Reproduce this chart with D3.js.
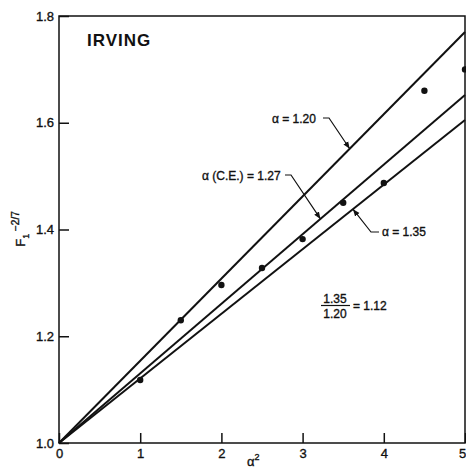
<!DOCTYPE html>
<head>
  <style>
    body { margin: 0; background: #fff; }
    text { font-family: "Liberation Sans", Arial, sans-serif; fill: #111; stroke: #111; stroke-width: 0.35px; }
  </style>
<title>Irving</title>
</head>

<body>

  <script type="text/javascript" src="https://cdn.jsdelivr.net/npm/d3@7/dist/d3.min.js"></script>

  <script type="text/javascript">
    // chart data
    var xTickValues = [0, 1, 2, 3, 4, 5];
    var yTickValues = [1.0, 1.2, 1.4, 1.6, 1.8];

    // measured points (a^2, F1^-2/7)
    var alphaSq = [1, 1.5, 2, 2.5, 3, 3.5, 4, 4.5, 5];
    var fValues = [1.118, 1.23, 1.296, 1.328, 1.382, 1.45, 1.487, 1.66, 1.70];

    // straight lines from (0, 1.0) to (5, end)
    var lineLabels = ["α = 1.20", "α (C.E.) = 1.27", "α = 1.35"];
    var lineEnds = [1.77, 1.652, 1.605];
    var arrowAt = [3.58, 3.22, 3.62];   // a^2 where each leader arrow hits its line

    var w = 466;
    var h = 471;
    var margin = ({top: 16, right: 1, bottom: 28, left: 59});

    var x = d3.scaleLinear().domain([0, 5]).range([margin.left, w - margin.right]);
    var y = d3.scaleLinear().domain([1.0, 1.8]).range([h - margin.bottom, margin.top]);

    var svg = d3.select("body")
                .append("svg")
                .attr("width", w)
                .attr("height", h);

    // frame
    svg.append("rect")
        .attr("x", x(0))
        .attr("y", y(1.8))
        .attr("width", x(5) - x(0))
        .attr("height", y(1.0) - y(1.8))
        .attr("fill", "none")
        .attr("stroke", "#111")
        .attr("stroke-width", 1.5);

    // axes, ticks pointing inward
    var xAxis = d3.axisBottom(x)
                  .tickValues(xTickValues)
                  .tickFormat(d3.format("d"))
                  .tickSizeInner(-10)
                  .tickSizeOuter(0)
                  .tickPadding(6);
    var gx = svg.append("g")
        .attr("transform", `translate(0,${y(1.0)})`)
        .call(xAxis);

    var yAxis = d3.axisLeft(y)
                  .tickValues(yTickValues)
                  .tickFormat(d3.format(".1f"))
                  .tickSizeInner(-10)
                  .tickSizeOuter(0)
                  .tickPadding(5);
    var gy = svg.append("g")
        .attr("transform", `translate(${x(0)},0)`)
        .call(yAxis);

    [gx, gy].forEach(function(g) {
      g.select(".domain").remove();
      g.selectAll("line").attr("stroke", "#111").attr("stroke-width", 1.5);
      g.selectAll("text")
        .attr("fill", "#111")
        .style("font-family", "'Liberation Sans', Arial, sans-serif")
        .style("font-size", "13px");
    });
    // keep the last x label inside the page edge
    gx.selectAll(".tick text").filter(function(d) { return d === 5; }).attr("dx", -3);

    // fitted lines
    var line = d3.line()
                 .x(function(d) { return x(d[0]); })
                 .y(function(d) { return y(d[1]); });

    svg.append("g")
        .selectAll("path")
        .data(lineEnds)
        .enter()
        .append("path")
        .attr("d", function(d) { return line([[0, 1.0], [5, d]]); })
        .attr("fill", "none")
        .attr("stroke", "#111")
        .attr("stroke-width", 2);

    // data points
    svg.append("g")
        .selectAll("circle")
        .data(alphaSq)
        .enter()
        .append("circle")
        .attr("cx", function(d) { return x(d); })
        .attr("cy", function(d, i) { return y(fValues[i]); })
        .attr("r", 3.2)
        .attr("fill", "#111");

    // arrowhead marker
    svg.append("defs").append("marker")
        .attr("id", "arrow")
        .attr("viewBox", "0 0 10 10")
        .attr("refX", 10)
        .attr("refY", 5)
        .attr("markerWidth", 7)
        .attr("markerHeight", 7)
        .attr("markerUnits", "userSpaceOnUse")
        .attr("orient", "auto")
        .append("path")
        .attr("d", "M0,1 L10,5 L0,9 Z")
        .attr("fill", "#111");

    // leader labels: text anchor, hook, arrow tip on the line
    var labelPos = [
      {tx: 272, ty: 123, anchor: "start", hook: [[323, 118], [329, 118]]},
      {tx: 202, ty: 180, anchor: "start", hook: [[285, 175], [291, 175]]},
      {tx: 382, ty: 236, anchor: "start", hook: [[379, 232], [371, 232]]}
    ];

    lineLabels.forEach(function(lab, i) {
      var p = labelPos[i];
      var tip = [x(arrowAt[i]), y(1.0 + (lineEnds[i] - 1.0) * arrowAt[i] / 5)];
      svg.append("text")
          .attr("x", p.tx)
          .attr("y", p.ty)
          .attr("text-anchor", p.anchor)
          .style("font-size", "12px")
          .text(lab);
      svg.append("path")
          .attr("d", d3.line()(p.hook.concat([tip])))
          .attr("fill", "none")
          .attr("stroke", "#111")
          .attr("stroke-width", 1.2)
          .attr("marker-end", "url(#arrow)");
    });

    // title inside the plot
    svg.append("text")
        .attr("x", 87)
        .attr("y", 46)
        .style("font-size", "17px")
        .style("font-weight", "bold")
        .style("letter-spacing", "1px")
        .style("stroke-width", "0px")
        .text("IRVING");

    // ratio note
    var frac = svg.append("g");
    frac.append("text")
        .attr("x", 335).attr("y", 303)
        .attr("text-anchor", "middle")
        .style("font-size", "12px")
        .text("1.35");
    frac.append("line")
        .attr("x1", 321).attr("x2", 350)
        .attr("y1", 305.5).attr("y2", 305.5)
        .attr("stroke", "#111").attr("stroke-width", 1.2);
    frac.append("text")
        .attr("x", 335).attr("y", 318)
        .attr("text-anchor", "middle")
        .style("font-size", "12px")
        .text("1.20");
    frac.append("text")
        .attr("x", 353).attr("y", 310)
        .style("font-size", "12px")
        .text("= 1.12");

    // axis labels
    var yl = svg.append("text")
        .attr("transform", "translate(25,229) rotate(-90)")
        .attr("text-anchor", "middle")
        .attr("fill", "#111")
        .style("font-size", "13px");
    yl.append("tspan").text("F");
    yl.append("tspan").attr("dy", 4).style("font-size", "9px").text("1");
    yl.append("tspan").attr("dy", -10).style("font-size", "10px").text(" −2/7");

    var xl = svg.append("text")
        .attr("x", 247)
        .attr("y", 466)
        .attr("fill", "#111")
        .style("font-size", "13px");
    xl.append("tspan").text("α");
    xl.append("tspan").attr("dy", -6).style("font-size", "9px").text("2");

  </script>

</body>
